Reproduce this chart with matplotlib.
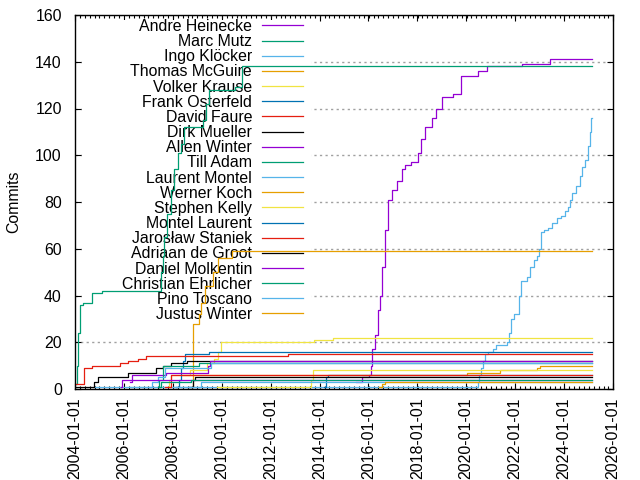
import matplotlib
matplotlib.use("Agg")
import matplotlib.pyplot as plt
import matplotlib.dates as mdates
from matplotlib.ticker import AutoMinorLocator
from matplotlib.patches import Rectangle
from datetime import datetime

plt.rcParams['font.family'] = ['Liberation Sans', 'DejaVu Sans']
plt.rcParams['font.size'] = 11.4

END_DATE = "2025-02-25"
X_RANGE = ("2004-01-01", "2026-01-01")
Y_TICKS = list(range(0, 161, 20))

authors = ["Andre Heinecke", "Marc Mutz", "Ingo Klöcker", "Thomas McGuire",
           "Volker Krause", "Frank Osterfeld", "David Faure", "Dirk Mueller",
           "Allen Winter", "Till Adam", "Laurent Montel", "Werner Koch",
           "Stephen Kelly", "Montel Laurent", "Jarosław Staniek",
           "Adriaan de Groot", "Daniel Molkentin", "Christian Ehrlicher",
           "Pino Toscano", "Justus Winter"]

andre_dates = ["2015-07-01", "2015-10-01", "2016-01-10", "2016-02-10", "2016-02-25",
               "2016-04-10", "2016-05-20", "2016-06-20", "2016-07-25", "2016-09-01",
               "2016-10-20", "2016-12-15", "2017-03-01", "2017-05-10", "2017-07-01",
               "2017-10-01", "2018-01-10", "2018-03-01", "2018-04-20", "2018-08-01",
               "2018-10-01", "2019-01-01", "2019-06-15", "2019-10-10", "2020-07-01",
               "2020-11-01", "2022-04-20", "2023-06-10"]
andre_counts = [3, 5, 6, 10, 17, 23, 34, 40, 52, 68, 81, 85, 89, 94, 96, 97, 101, 107,
                112, 116, 120, 125, 126, 134, 136, 138, 139, 141]

marc_dates = ["2004-01-05", "2004-01-25", "2004-02-15", "2004-03-10", "2004-05-01",
              "2004-09-10", "2005-02-01", "2007-07-15", "2007-08-01", "2007-08-20",
              "2007-10-01", "2007-12-01", "2008-01-15", "2008-03-15", "2008-05-01",
              "2008-06-20", "2009-04-01", "2009-05-10", "2009-06-20", "2010-07-15",
              "2010-11-01"]
marc_counts = [2, 10, 24, 36, 37, 41, 42, 50, 57, 65, 75, 85, 94, 101, 105, 112, 115,
               122, 128, 129, 138]

ingo_dates = ["2004-10-15", "2020-06-25", "2020-07-10", "2020-08-01", "2020-09-01",
              "2020-10-01", "2020-11-15", "2021-02-01", "2021-03-20", "2021-09-01",
              "2021-10-01", "2021-11-01", "2021-12-10", "2022-03-01", "2022-04-01",
              "2022-07-01", "2022-08-15", "2022-10-10", "2022-11-20", "2022-12-20",
              "2023-01-20", "2023-03-01", "2023-05-01", "2023-07-01", "2023-09-15",
              "2023-11-15", "2024-01-10", "2024-03-01", "2024-04-01", "2024-05-01",
              "2024-06-20", "2024-08-20", "2024-10-01", "2024-11-15", "2024-12-20",
              "2025-01-20", "2025-02-10"]
ingo_counts = [1, 3, 6, 9, 12, 15, 16, 17, 19, 20, 24, 30, 32, 40, 46, 48, 52, 55, 57,
               60, 67, 68, 69, 71, 73, 74, 76, 78, 81, 84, 87, 91, 95, 98, 104, 110, 116]

thomas_dates = ["2008-10-15", "2008-10-25", "2009-01-20", "2009-02-20", "2009-05-01",
                "2009-08-20", "2009-11-01", "2010-06-01"]
thomas_counts = [1, 28, 32, 37, 44, 50, 56, 59]

volker_dates = ["2007-10-20", "2007-11-01", "2007-12-01", "2008-09-15", "2009-06-01",
                "2009-09-01", "2009-11-01", "2009-12-20", "2013-10-15", "2014-07-15"]
volker_counts = [1, 4, 6, 8, 11, 13, 16, 20, 21, 22]

frank_dates = ["2008-02-15", "2008-04-01", "2008-05-01", "2008-06-01", "2008-07-01",
               "2009-07-01"]
frank_counts = [1, 4, 9, 12, 15, 16]

david_dates = ["2004-01-10", "2004-05-20", "2004-09-10", "2005-11-01", "2006-03-01",
               "2006-08-01", "2006-11-20", "2012-09-15"]
david_counts = [2, 9, 10, 11, 12, 13, 14, 15]

dirk_dates = ["2004-01-20", "2004-10-15", "2004-12-10", "2006-03-01", "2007-05-01",
              "2007-08-01", "2007-12-01", "2008-08-01"]
dirk_counts = [1, 3, 5, 7, 9, 10, 11, 12]

allen_dates = ["2006-04-01", "2006-05-01", "2007-09-15", "2009-06-15", "2009-07-15"]
allen_counts = [3, 6, 7, 10, 12]

till_dates = ["2007-05-20", "2007-06-10", "2007-08-01", "2009-02-01"]
till_counts = [1, 4, 10, 11]

laurent_dates = ["2006-04-01", "2007-03-01", "2007-06-01", "2007-09-01", "2009-07-20"]
laurent_counts = [1, 3, 5, 9, 11]

werner_dates = ["2008-05-15", "2020-01-15", "2021-05-20", "2022-11-20", "2023-01-10"]
werner_counts = [6, 7, 8, 9, 10]

stephen_dates = ["2009-10-15", "2013-09-01", "2013-09-20"]
stephen_counts = [1, 4, 8]

montel_dates = ["2014-03-01", "2014-04-01", "2014-05-01"]
montel_counts = [1, 5, 6]

jaroslaw_dates = ["2007-09-01", "2007-12-01"]
jaroslaw_counts = [1, 6]

adriaan_dates = ["2008-09-01", "2008-11-01", "2008-12-01"]
adriaan_counts = [1, 4, 5]

daniel_dates = ["2005-11-20", "2005-12-10"]
daniel_counts = [1, 4]

christian_dates = ["2007-06-15", "2007-07-15", "2008-10-01"]
christian_counts = [1, 3, 4]

pino_dates = ["2008-01-01", "2009-03-01"]
pino_counts = [1, 3]

justus_dates = ["2016-06-01", "2016-07-15", "2016-09-01"]
justus_counts = [1, 2, 3]

series_dates = [andre_dates, marc_dates, ingo_dates, thomas_dates, volker_dates,
                frank_dates, david_dates, dirk_dates, allen_dates, till_dates,
                laurent_dates, werner_dates, stephen_dates, montel_dates,
                jaroslaw_dates, adriaan_dates, daniel_dates, christian_dates,
                pino_dates, justus_dates]
series_counts = [andre_counts, marc_counts, ingo_counts, thomas_counts, volker_counts,
                 frank_counts, david_counts, dirk_counts, allen_counts, till_counts,
                 laurent_counts, werner_counts, stephen_counts, montel_counts,
                 jaroslaw_counts, adriaan_counts, daniel_counts, christian_counts,
                 pino_counts, justus_counts]

palette = ["#9400d3", "#009e73", "#56b4e9", "#e69f00", "#f0e442", "#0072b2",
           "#e51e10", "#000000"]

def to_dt(s):
    return datetime.strptime(s, "%Y-%m-%d")

fig = plt.figure(figsize=(6.4, 4.8), dpi=100)
fig.subplots_adjust(left=75/640, right=613/640, top=1-15/480, bottom=1-389/480)
ax = fig.add_subplot(111)

for i, (name, ds, cs) in enumerate(zip(authors, series_dates, series_counts)):
    xs = [to_dt(d) for d in ds] + [to_dt(END_DATE)]
    ys = list(cs) + [cs[-1]]
    ax.step(xs, ys, where='post', color=palette[i % 8], lw=0.9, label=name, zorder=2)

ax.set_xlim(to_dt(X_RANGE[0]), to_dt(X_RANGE[1]))
ax.set_ylim(Y_TICKS[0], Y_TICKS[-1])
ax.set_yticks(Y_TICKS)
ax.xaxis.set_major_locator(mdates.YearLocator(2))
ax.xaxis.set_major_formatter(mdates.DateFormatter("%Y-%m-%d"))
ax.xaxis.set_minor_locator(AutoMinorLocator(10))
for lab in ax.get_xticklabels():
    lab.set_rotation(90)

ax.tick_params(which='both', direction='in', top=True, right=True, color='black')
ax.tick_params(which='major', length=4.5, width=0.8)
ax.tick_params(which='minor', length=2.5, width=0.8)
ax.tick_params(axis='y', pad=9.5)
ax.tick_params(axis='x', pad=6)
for sp in ax.spines.values():
    sp.set_linewidth(1.0)

ax.set_axisbelow(True)
ax.yaxis.grid(True, color='#a0a0a0', linestyle=(0, (1.6, 2.4)), lw=1.0)
ax.set_ylabel("Commits", labelpad=10)

# opaque key background (covers grid, lies beneath the data lines)
bg = Rectangle((7/538, (389-322)/374), (311-82)/538, (322-20)/374,
               transform=ax.transAxes, facecolor='white', edgecolor='none', zorder=1)
ax.add_patch(bg)

leg = ax.legend(loc='upper right', bbox_to_anchor=((303-75)/538, (389-19)/374),
                frameon=False, markerfirst=False, borderpad=0, borderaxespad=0,
                handlelength=2.6, handletextpad=0.62, labelspacing=0.01,
                fontsize=11.4)
leg.set_zorder(1.5)

fig.savefig("out.png", dpi=100)
